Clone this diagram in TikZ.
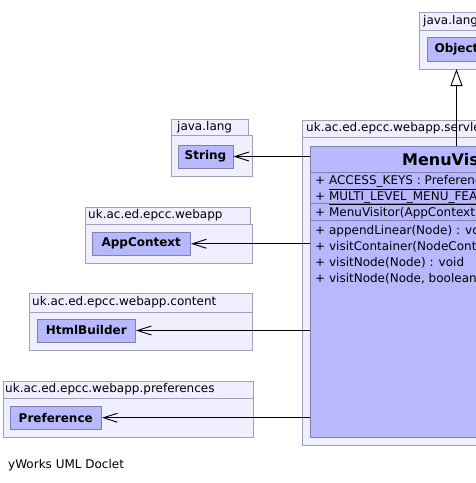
\documentclass[tikz,border=0pt]{standalone}
\usepackage{fontspec}
\setmainfont{DejaVu Sans}
\usetikzlibrary{arrows.meta}
\definecolor{pkgfill}{RGB}{239,239,255}
\definecolor{pkgline}{RGB}{160,160,184}
\definecolor{clsfill}{RGB}{184,184,255}
\definecolor{clsline}{RGB}{128,128,176}

\begin{document}
\begin{tikzpicture}[
    x=1pt, y=-1pt,
    font=\fontsize{12}{14}\selectfont,
    pkg/.style={fill=pkgfill, draw=pkgline, line width=1pt},
    pkg label/.style={anchor=west, inner sep=0pt},
    cls/.style={fill=clsfill, draw=clsline, line width=1pt, inner sep=0pt,
                font=\fontsize{12}{14}\selectfont\bfseries},
    member/.style={anchor=base west, inner sep=0pt},
    sep line/.style={draw=clsline, line width=1pt},
    uses/.style={-{Straight Barb[length=14pt, width=9pt]}, line width=0.9pt},
    extends/.style={-{Triangle[open, fill=white, length=17pt, width=12pt]}, line width=0.9pt}
    ]

    \useasboundingbox (0,0) rectangle (476,483);
    \clip (0,0) rectangle (476,483);

    % packages
    \filldraw[pkg] (419,12) rectangle (497,30);
    \filldraw[pkg] (419,30) rectangle (501,69);
    \node[pkg label] (langtopname) at (423,21) {java.lang};

    \filldraw[pkg] (302,120) rectangle (560,137);
    \filldraw[pkg] (302,137) rectangle (611,445);
    \node[pkg label] (navname) at (306,128.5) {uk.ac.ed.epcc.webapp.servlet.navigation};

    \filldraw[pkg] (171,119) rectangle (248,135);
    \filldraw[pkg] (171,135) rectangle (252,176);
    \node[pkg label] (langname) at (177,127) {java.lang};

    \filldraw[pkg] (85,207) rectangle (250,224);
    \filldraw[pkg] (85,224) rectangle (252,263);
    \node[pkg label] (webappname) at (88,215.5) {uk.ac.ed.epcc.webapp};

    \filldraw[pkg] (29,293) rectangle (252,312);
    \filldraw[pkg] (29,312) rectangle (252,350);
    \node[pkg label] (contentname) at (32,302.5) {uk.ac.ed.epcc.webapp.content};

    \filldraw[pkg] (3,381) rectangle (253,398);
    \filldraw[pkg] (3,398) rectangle (253,437);
    \node[pkg label] (prefname) at (5,389.5) {uk.ac.ed.epcc.webapp.preferences};

    % classes
    \node[cls, minimum width=59pt, minimum height=24.5pt] (object) at (456.5,49.25) {Object};
    \node[cls, minimum width=55pt, minimum height=23pt] (string) at (205.5,156.5) {String};
    \node[cls, minimum width=98.5pt, minimum height=23.5pt] (appcontext) at (141.25,243.75) {AppContext};
    \node[cls, minimum width=98.5pt, minimum height=23pt] (htmlbuilder) at (86.25,330.5) {HtmlBuilder};
    \node[cls, minimum width=91.5pt, minimum height=22.5pt] (preference) at (55.75,417.75) {Preference};

    % MenuVisitor
    \node[cls, minimum width=293pt, minimum height=291pt] (menuvisitor) at (456.5,291.5) {};
    \node[anchor=base, inner sep=0pt, font=\fontsize{16}{18}\selectfont\bfseries]
        (menutitle) at (456.5,165) {MenuVisitor};
    \draw[sep line] (310,172.5) -- (603,172.5);
    \draw[sep line] (310,203) -- (603,203);
    \draw[sep line] (310,220) -- (603,220);
    \node[member] (attr1) at (315,184.5) {+ \underline{ACCESS\_KEYS : Preference}};
    \node[member] (attr2) at (315,200) {+ \underline{MULTI\_LEVEL\_MENU\_FEATURE : Preference}};
    \node[member] (ctor) at (315,216) {+ MenuVisitor(AppContext, HtmlBuilder)};
    \node[member] (op1) at (315,234.5) {+ appendLinear(Node) : void};
    \node[member] (op2) at (315,250.5) {+ visitContainer(NodeContainer) : void};
    \node[member] (op3) at (315,266.5) {+ visitNode(Node) : void};
    \node[member] (op4) at (315,282.5) {+ visitNode(Node, boolean) : void};

    % relations
    \draw[extends] (menuvisitor.north) -- (menuvisitor.north |- 0,69);
    \draw[uses] (menuvisitor.west |- string) -- (string);
    \draw[uses] (menuvisitor.west |- appcontext) -- (appcontext);
    \draw[uses] (menuvisitor.west |- htmlbuilder) -- (htmlbuilder);
    \draw[uses] (menuvisitor.west |- preference) -- (preference);

    \node[anchor=west, inner sep=0pt] (doclet) at (8,465) {yWorks UML Doclet};
\end{tikzpicture}
\end{document}
